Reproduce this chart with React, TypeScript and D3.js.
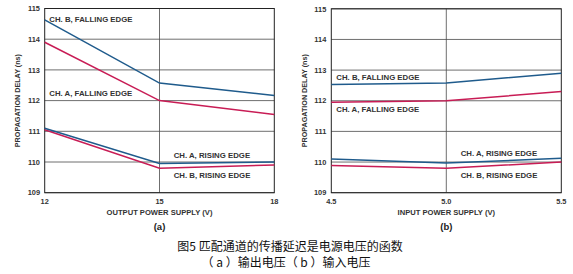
import React from "react";
import * as d3 from "d3";

const yTicks = [109, 110, 111, 112, 113, 114, 115];

const outX = [12, 15, 18];
const outBFall = [114.63, 112.57, 112.17];
const outAFall = [113.9, 112.0, 111.55];
const outARise = [111.1, 109.95, 110.0];
const outBRise = [111.05, 109.8, 109.9];

const inX = [4.5, 5.0, 5.5];
const inXLabels = ["4.5", "5.0", "5.5"];
const inBFall = [112.53, 112.58, 112.9];
const inAFall = [111.95, 112.0, 112.3];
const inARise = [110.1, 109.97, 110.12];
const inBRise = [109.89, 109.8, 110.0];

const BLUE = "#1f5b8c";
const RED = "#c81c55";
const FONT = "'Liberation Sans', Arial, sans-serif";

type Lbl = { text: string; x: number; y: number };

function Panel(props: {
  left: number; right: number; top: number; bottom: number;
  xs: number[]; xLabels: string[];
  series: { vals: number[]; color: string }[];
  labels: Lbl[]; xTitle: string; yTitleX: number; tickRight: number; sub: string;
}) {
  const { left, right, top, bottom, xs, xLabels, series, labels, xTitle, yTitleX, tickRight, sub } = props;
  const x = d3.scaleLinear().domain([xs[0], xs[xs.length - 1]]).range([left, right]);
  const y = d3.scaleLinear().domain([109, 115]).range([bottom, top]);
  const line = d3.line<[number, number]>().x(d => x(d[0])).y(d => y(d[1]));
  const mid = (left + right) / 2;
  return (
    <g>
      {yTicks.map(t => (
        <line key={"g" + t} x1={left} x2={right} y1={y(t)} y2={y(t)} stroke="#4a4a4a" strokeWidth={0.8} />
      ))}
      <line x1={x(xs[1])} x2={x(xs[1])} y1={top} y2={bottom} stroke="#4a4a4a" strokeWidth={0.8} />
      <rect x={left} y={top} width={right - left} height={bottom - top} fill="none" stroke="#222" strokeWidth={1} />
      {series.map((s, i) => (
        <path key={i} d={line(xs.map((v, j) => [v, s.vals[j]] as [number, number])) || ""} fill="none" stroke={s.color} strokeWidth={1.5} />
      ))}
      {yTicks.map(t => (
        <text key={"t" + t} x={tickRight} y={y(t) + 2.7} textAnchor="end" fontSize={7.4} fontWeight="bold" fill="#333" fontFamily={FONT}>{t}</text>
      ))}
      {xs.map((v, i) => (
        <text key={"x" + i} x={x(v)} y={204.2} textAnchor="middle" fontSize={7.4} fontWeight="bold" fill="#333" fontFamily={FONT}>{xLabels[i]}</text>
      ))}
      <text x={mid} y={214.5} textAnchor="middle" fontSize={7.6} fontWeight="bold" fill="#333" fontFamily={FONT}>{xTitle}</text>
      <text x={mid} y={229.5} textAnchor="middle" fontSize={9.5} fontWeight="bold" fill="#222" fontFamily={FONT}>{sub}</text>
      <text transform={`translate(${yTitleX},${(top + bottom) / 2}) rotate(-90)`} textAnchor="middle" fontSize={7.2} fontWeight="bold" fill="#333" fontFamily={FONT}>PROPAGATION DELAY (ns)</text>
      {labels.map((l, i) => (
        <text key={"l" + i} x={l.x} y={l.y + 2.7} fontSize={7.8} fontWeight="bold" fill="#333" fontFamily={FONT}>{l.text}</text>
      ))}
    </g>
  );
}

export default function App() {
  return (
    <svg width={573} height={274} style={{ position: "absolute", left: 0, top: 0, background: "#fff" }}>
      <rect width={573} height={274} fill="#fff" />
      <Panel left={44.7} right={274.3} top={8.5} bottom={192.7} xs={outX} xLabels={outX.map(String)}
        series={[{ vals: outBFall, color: BLUE }, { vals: outAFall, color: RED }, { vals: outBRise, color: RED }, { vals: outARise, color: BLUE }]}
        labels={[
          { text: "CH. B, FALLING EDGE", x: 49.3, y: 19 },
          { text: "CH. A, FALLING EDGE", x: 49.3, y: 93.3 },
          { text: "CH. A, RISING EDGE", x: 173.7, y: 155 },
          { text: "CH. B, RISING EDGE", x: 173.7, y: 175 },
        ]}
        xTitle="OUTPUT POWER SUPPLY (V)" yTitleX={20} tickRight={40} sub="(a)" />
      <Panel left={331.3} right={561.3} top={8.8} bottom={192.7} xs={inX} xLabels={inXLabels}
        series={[{ vals: inBFall, color: BLUE }, { vals: inAFall, color: RED }, { vals: inBRise, color: RED }, { vals: inARise, color: BLUE }]}
        labels={[
          { text: "CH. B, FALLING EDGE", x: 336.3, y: 77.7 },
          { text: "CH. A, FALLING EDGE", x: 336.3, y: 109 },
          { text: "CH. A, RISING EDGE", x: 460.7, y: 153.3 },
          { text: "CH. B, RISING EDGE", x: 460.7, y: 175 },
        ]}
        xTitle="INPUT POWER SUPPLY (V)" yTitleX={306.5} tickRight={326.3} sub="(b)" />
      <text x={290} y={251} textAnchor="middle" fontSize={12} fill="#111" fontFamily="'Noto Sans CJK SC', sans-serif">图5 匹配通道的传播延迟是电源电压的函数</text>
      <text x={286} y={267} textAnchor="middle" fontSize={12} fill="#111" fontFamily="'Noto Sans CJK SC', sans-serif">（ a ）输出电压（ b ）输入电压</text>
    </svg>
  );
}
